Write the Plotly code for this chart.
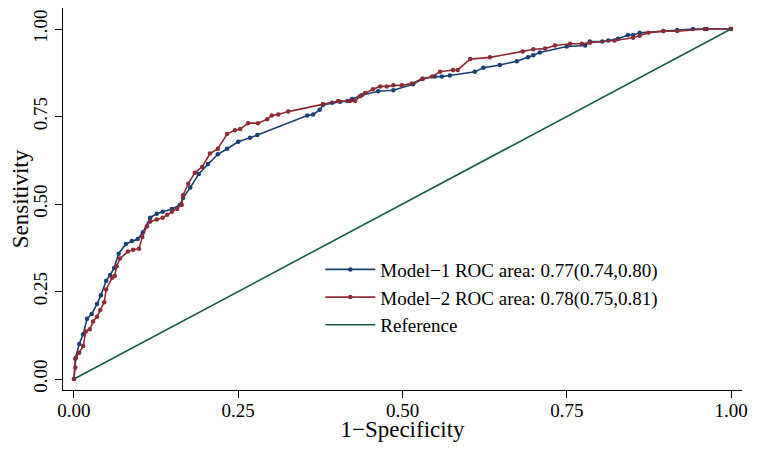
import plotly.graph_objects as go

# ROC curve points (1-specificity, sensitivity)
model1_fpr = [0.000, 0.002, 0.008, 0.014, 0.020, 0.027, 0.035, 0.041, 0.049, 0.055,
              0.061, 0.068, 0.079, 0.088, 0.097, 0.105, 0.116, 0.126, 0.135, 0.149,
              0.161, 0.166, 0.177, 0.190, 0.204, 0.219, 0.233, 0.250, 0.268, 0.279,
              0.355, 0.364, 0.374, 0.379, 0.393, 0.405, 0.416, 0.423, 0.438, 0.463,
              0.486, 0.516, 0.531, 0.549, 0.560, 0.572, 0.610, 0.623, 0.648, 0.674,
              0.691, 0.699, 0.709, 0.750, 0.778, 0.785, 0.804, 0.813, 0.828, 0.843,
              0.851, 0.861, 0.897, 0.918, 0.942, 0.963, 1.000]
model1_tpr = [0.000, 0.058, 0.100, 0.128, 0.172, 0.186, 0.214, 0.239, 0.281, 0.297,
              0.317, 0.358, 0.386, 0.394, 0.400, 0.419, 0.461, 0.472, 0.478, 0.486,
              0.497, 0.517, 0.547, 0.586, 0.614, 0.642, 0.658, 0.678, 0.689, 0.697,
              0.753, 0.756, 0.769, 0.783, 0.789, 0.792, 0.794, 0.800, 0.811, 0.822,
              0.825, 0.842, 0.858, 0.864, 0.864, 0.867, 0.878, 0.889, 0.897, 0.908,
              0.919, 0.925, 0.933, 0.950, 0.953, 0.964, 0.964, 0.967, 0.972, 0.983,
              0.983, 0.989, 0.994, 0.997, 1.000, 1.000, 1.000]

model2_fpr = [0.000, 0.002, 0.003, 0.008, 0.014, 0.018, 0.024, 0.029, 0.035, 0.040,
              0.046, 0.049, 0.058, 0.062, 0.065, 0.070, 0.082, 0.090, 0.099, 0.104,
              0.111, 0.116, 0.126, 0.135, 0.142, 0.149, 0.157, 0.164, 0.166, 0.174,
              0.184, 0.195, 0.207, 0.219, 0.233, 0.245, 0.253, 0.265, 0.280, 0.294,
              0.301, 0.311, 0.326, 0.379, 0.402, 0.420, 0.428, 0.435, 0.443, 0.455,
              0.466, 0.476, 0.486, 0.499, 0.514, 0.530, 0.545, 0.557, 0.577, 0.584,
              0.603, 0.633, 0.683, 0.699, 0.717, 0.732, 0.755, 0.773, 0.785, 0.823,
              0.851, 0.861, 0.874, 0.897, 0.918, 0.960, 1.000]
model2_tpr = [0.000, 0.033, 0.061, 0.075, 0.094, 0.136, 0.142, 0.164, 0.178, 0.197,
              0.219, 0.256, 0.289, 0.294, 0.322, 0.344, 0.364, 0.369, 0.372, 0.406,
              0.436, 0.450, 0.456, 0.461, 0.469, 0.478, 0.486, 0.497, 0.525, 0.558,
              0.589, 0.606, 0.644, 0.658, 0.700, 0.711, 0.714, 0.731, 0.731, 0.742,
              0.753, 0.756, 0.764, 0.786, 0.794, 0.794, 0.794, 0.808, 0.817, 0.828,
              0.836, 0.836, 0.839, 0.839, 0.844, 0.858, 0.864, 0.878, 0.883, 0.883,
              0.914, 0.919, 0.936, 0.942, 0.944, 0.953, 0.958, 0.958, 0.961, 0.967,
              0.975, 0.981, 0.989, 0.994, 0.994, 1.000, 1.000]

ref_x = [0, 1]
ref_y = [0, 1]

tick_vals = [0, 0.25, 0.5, 0.75, 1]
tick_text = ['0.00', '0.25', '0.50', '0.75', '1.00']

names = ['Model\u22121 ROC area: 0.77(0.74,0.80)',
         'Model\u22122 ROC area: 0.78(0.75,0.81)',
         'Reference']

navy = '#1a3f73'
maroon = '#8e2c35'
green = '#165a48'

fig = go.Figure()

fig.add_trace(go.Scatter(x=model1_fpr, y=model1_tpr, mode='lines+markers',
                         name=names[0],
                         line=dict(color=navy, width=1.6),
                         marker=dict(color=navy, size=4.5)))
fig.add_trace(go.Scatter(x=model2_fpr, y=model2_tpr, mode='lines+markers',
                         name=names[1],
                         line=dict(color=maroon, width=1.6),
                         marker=dict(color=maroon, size=4.5)))
fig.add_trace(go.Scatter(x=ref_x, y=ref_y, mode='lines',
                         name=names[2],
                         line=dict(color=green, width=1.6)))

axis_style = dict(showgrid=False, zeroline=False, showline=True,
                  linecolor='black', linewidth=1.3, automargin=False,
                  ticks='outside', ticklen=7, tickwidth=1.3, tickcolor='black',
                  tickvals=tick_vals, ticktext=tick_text,
                  ticklabeloverflow='allow')

fig.update_xaxes(range=[-0.0167, 1.0167], ticklabelstandoff=-4,
                 title=dict(text='1\u2212Specificity', standoff=6),
                 **axis_style)
# extra headroom so the rotated "1.00" label is not cut at the page top
fig.update_yaxes(range=[-0.0314, 1.06],
                 title=dict(text='Sensitivity', standoff=4),
                 tickangle=-90, **axis_style)

# the page body has an 8px margin, so the figure is sized to fit inside it
fig.update_layout(width=749, height=434,
                  margin=dict(l=55, r=15, t=0, b=52),
                  plot_bgcolor='white', paper_bgcolor='white',
                  font=dict(family='Liberation Serif', size=19, color='black'),
                  legend=dict(x=0.379, y=0.365, xanchor='left', yanchor='top',
                              bgcolor='rgba(0,0,0,0)', itemwidth=50,
                              tracegroupgap=2,
                              font=dict(size=19)))

fig.write_html('out.html')
